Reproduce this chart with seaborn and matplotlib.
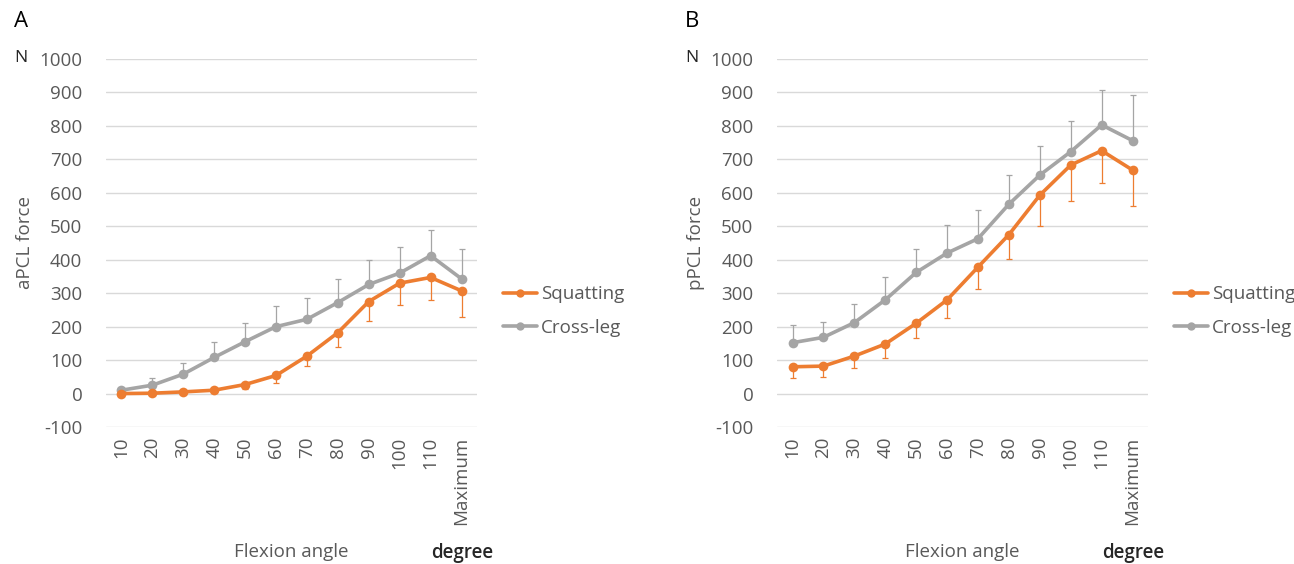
import numpy as np
import pandas as pd
import matplotlib
matplotlib.use("Agg")
import matplotlib.pyplot as plt
import seaborn as sns

angles = ["10", "20", "30", "40", "50", "60", "70", "80", "90", "100", "110", "Maximum"]

# panel A: aPCL force (N)
a_squat = [0, 1, 5, 10, 27, 54, 112, 182, 275, 330, 347, 307]
a_squat_err = [6, 6, 6, 8, 12, 21, 30, 44, 57, 65, 67, 79]
a_cross = [10, 25, 58, 108, 155, 200, 222, 272, 326, 360, 412, 343]
a_cross_err = [5, 20, 32, 45, 57, 62, 63, 69, 73, 79, 77, 88]

# panel B: pPCL force (N)
b_squat = [80, 82, 112, 148, 210, 280, 378, 475, 593, 683, 726, 668]
b_squat_err = [35, 32, 37, 41, 45, 55, 65, 72, 93, 107, 98, 108]
b_cross = [152, 168, 212, 280, 362, 420, 463, 566, 653, 723, 803, 756]
b_cross_err = [53, 47, 56, 68, 71, 85, 87, 87, 87, 93, 105, 135]

series = ["Squatting", "Cross-leg"]
colors = {"Squatting": "#ED7D31", "Cross-leg": "#A5A5A5"}

sns.set_theme(style="white")
plt.rcParams['font.family'] = ['Open Sans', 'DejaVu Sans']
plt.rcParams['axes.unicode_minus'] = False
text_col = "#595959"
fs = 13.5


def draw_panel(fig, rect, squat, squat_err, cross, cross_err, ylabel, letter):
    ax = fig.add_axes(rect)
    pos = np.arange(len(angles))
    df = pd.DataFrame({
        "pos": np.concatenate([pos, pos]),
        "force": squat + cross,
        "Series": ["Squatting"] * len(angles) + ["Cross-leg"] * len(angles),
    })
    # error bars: squatting goes down, cross-leg goes up
    ax.errorbar(pos, squat, yerr=[squat_err, np.zeros(len(pos))], fmt="none",
                ecolor=colors["Squatting"], elinewidth=0.9, capsize=2.5, capthick=0.9, zorder=2)
    ax.errorbar(pos, cross, yerr=[np.zeros(len(pos)), cross_err], fmt="none",
                ecolor=colors["Cross-leg"], elinewidth=0.9, capsize=2.5, capthick=0.9, zorder=2)
    sns.lineplot(data=df, x="pos", y="force", hue="Series", hue_order=series[::-1],
                 palette=colors, marker="o", markersize=7, markeredgewidth=0,
                 linewidth=2.6, ax=ax, legend=False, zorder=3)
    ax.set_xlim(-0.5, len(angles) - 0.5)
    ax.set_ylim(-100, 1000)
    ax.set_yticks(np.arange(-100, 1001, 100))
    ax.set_xticks(pos)
    ax.set_xticklabels(angles, rotation=90)
    ax.grid(axis="y", color="#D9D9D9", linewidth=1)
    ax.set_axisbelow(True)
    for s in ax.spines.values():
        s.set_visible(False)
    ax.tick_params(axis="y", length=0, pad=17, labelsize=fs, labelcolor=text_col)
    ax.tick_params(axis="x", length=0, pad=7, labelsize=fs, labelcolor=text_col)
    ax.set_xlabel("")
    ax.set_ylabel(ylabel, fontsize=fs, color=text_col, labelpad=4)

    # legend to the right
    handles = [plt.Line2D([], [], color=colors[s], marker="o", markersize=6,
                          markeredgewidth=0, linewidth=2.6) for s in series]
    ax.legend(handles, series, loc="center left", bbox_to_anchor=(1.025, 0.315),
              frameon=False, fontsize=fs, handlelength=1.8, handletextpad=0.2,
              labelspacing=0.85, labelcolor=text_col)

    x0 = rect[0]
    fig.text(x0 - 0.071, 0.962, letter, fontsize=16, color="#000000", va="center", ha="left")
    fig.text(x0 - 0.071, 0.897, "N", fontsize=12.5, color="#262626", va="center", ha="left")
    fig.text(x0 + 0.143, 0.021, "Flexion angle", fontsize=fs, color=text_col, ha="center", va="center")
    fig.text(x0 + 0.275, 0.019, "degree", fontsize=fs, color="#262626", ha="center", va="center",
             fontweight="semibold")
    return ax


fig = plt.figure(figsize=(12.94, 5.64), dpi=100)
draw_panel(fig, [0.0819, 0.2429, 0.2867, 0.6525], a_squat, a_squat_err, a_cross, a_cross_err,
           "aPCL force", "A")
draw_panel(fig, [0.6005, 0.2429, 0.2867, 0.6525], b_squat, b_squat_err, b_cross, b_cross_err,
           "pPCL force", "B")
fig.savefig("out.png", dpi=100)
